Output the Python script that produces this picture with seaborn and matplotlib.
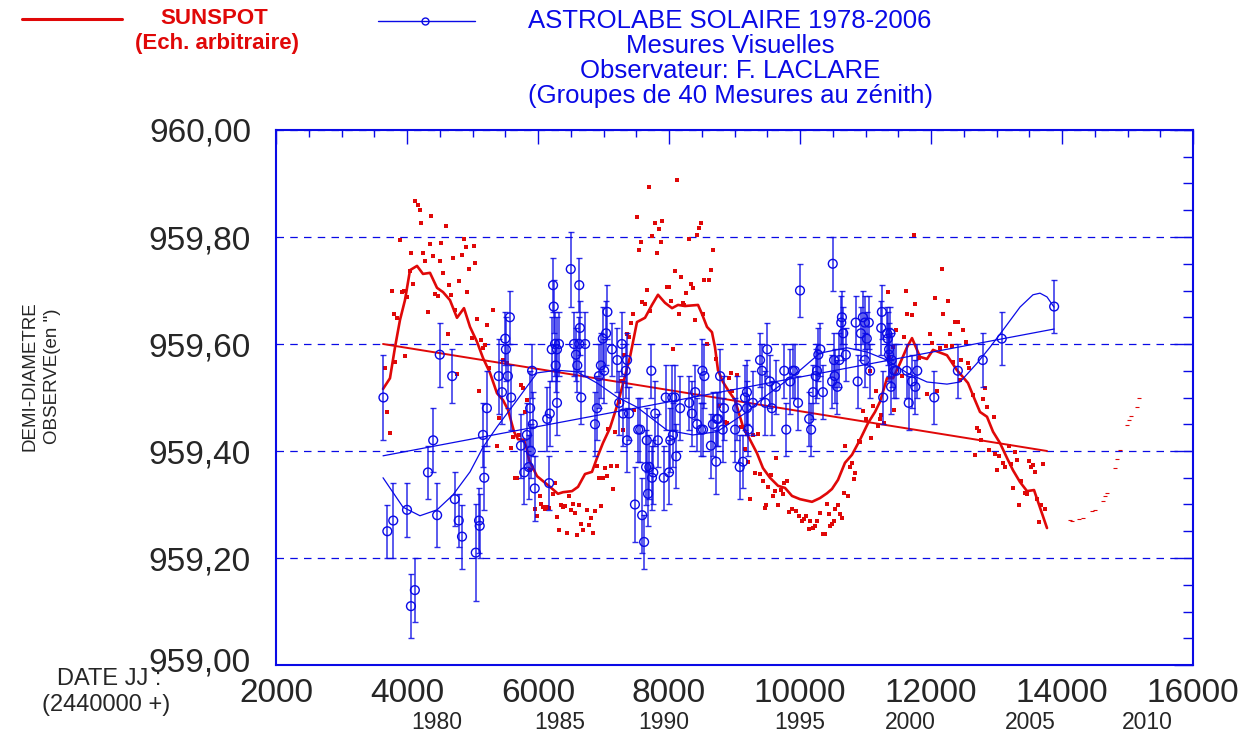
import matplotlib
matplotlib.use("Agg")
import matplotlib.pyplot as plt
import matplotlib.ticker as mticker
import matplotlib.transforms as mtransforms
from matplotlib.lines import Line2D
import seaborn as sns
import numpy as np
import pandas as pd

BLUE = "#0a0ae6"
RED = "#e00808"

# --- Astrolabe measurements (JD - 2440000, semi-diameter in arcsec, error) ---
astro_jd = [3640, 4500, 4690, 5220, 5400, 5450, 5500, 5510, 5540, 5570, 5590, 5910, 5880, 6180,
            6210, 6230, 6240, 6260, 6290, 6270, 6290, 6320, 6500, 6550, 6580, 6600, 6630, 6640,
            6630, 6660, 6720, 6900, 6930, 6960, 6990, 7010, 7040, 7060, 7130, 7210, 7280, 7340,
            7360, 7240, 7300, 7390,
            3700, 3790, 4000, 4060, 4120, 4320, 4400, 4460, 4730, 4790, 4840, 5050, 5100, 5110,
            5160, 5180, 5740, 5790, 5830, 5860, 5890, 5920, 5950, 6140, 6170, 6870, 7360, 7480,
            7530,
            7730, 7950, 8050, 8090, 8170, 8310, 8350, 8400, 8510, 8540, 8780, 8840, 9040, 9160,
            9190, 9190, 9280, 9390, 9420, 9470, 9500, 9540, 9570, 9630, 9760, 9850, 9890, 9920,
            9970, 10000, 10200, 10240, 10260, 10280, 10310, 10350, 10500, 10490, 10520, 10530,
            10570, 10600, 10630, 10640, 10660, 10700, 10880, 10850, 10930, 10960, 10990, 11020,
            11050, 10990, 11070, 11250, 11240, 11270, 11330, 11340, 11380, 11360, 11360, 11400,
            11390, 11440, 11470,
            7560, 7590, 7620, 7660, 7650, 7700, 7680, 7740, 7760, 7790, 7830, 7920, 8000, 8020,
            8060, 8110, 8430, 8490, 8640, 8670, 8730, 8720, 8820, 9010, 9080, 9130, 9210, 9790,
            10140, 10170, 8520, 8750,
            11660, 11710, 11760, 12050, 11630, 11790, 12410, 12790, 13080, 13880]
astro_val = [959.50, 959.58, 959.54, 959.48, 959.54, 959.51, 959.61, 959.59, 959.54, 959.65, 959.50,
             959.55, 959.48, 959.47, 959.59, 959.71, 959.67, 959.60, 959.59, 959.56, 959.49, 959.60,
             959.74, 959.60, 959.58, 959.56, 959.71, 959.63, 959.60, 959.50, 959.60, 959.48, 959.54,
             959.56, 959.61, 959.55, 959.62, 959.66, 959.59, 959.57, 959.60, 959.55, 959.57, 959.49,
             959.47, 959.47,
             959.25, 959.27, 959.29, 959.11, 959.14, 959.36, 959.42, 959.28, 959.31, 959.27, 959.24,
             959.21, 959.27, 959.26, 959.43, 959.35, 959.41, 959.36, 959.43, 959.37, 959.40, 959.45,
             959.33, 959.46, 959.34, 959.45, 959.42, 959.30, 959.44,
             959.55, 959.50, 959.50, 959.50, 959.48, 959.49, 959.47, 959.51, 959.55, 959.54, 959.54,
             959.48, 959.48, 959.50, 959.51, 959.48, 959.49, 959.57, 959.55, 959.49, 959.59, 959.53,
             959.48, 959.52, 959.55, 959.53, 959.55, 959.55, 959.49, 959.70, 959.51, 959.54, 959.55,
             959.58, 959.59, 959.51, 959.75, 959.53, 959.57, 959.54, 959.52, 959.57, 959.64, 959.65,
             959.62, 959.58, 959.53, 959.64, 959.62, 959.65, 959.64, 959.61, 959.64, 959.57, 959.55,
             959.66, 959.63, 959.50, 959.62, 959.61, 959.62, 959.59, 959.58, 959.57, 959.52, 959.55,
             959.55,
             959.44, 959.28, 959.23, 959.42, 959.37, 959.37, 959.32, 959.35, 959.36, 959.47, 959.42,
             959.35, 959.36, 959.42, 959.43, 959.39, 959.45, 959.44, 959.41, 959.45, 959.46, 959.38,
             959.44, 959.44, 959.37, 959.38, 959.44, 959.44, 959.46, 959.44, 959.44, 959.46,
             959.49, 959.53, 959.52, 959.50, 959.55, 959.55, 959.55, 959.57, 959.61, 959.67]
astro_err = [0.08, 0.06, 0.05, 0.07, 0.07, 0.06, 0.05, 0.06, 0.06, 0.05, 0.06, 0.05, 0.07, 0.06,
             0.06, 0.05, 0.05, 0.06, 0.06, 0.05, 0.06, 0.06, 0.07, 0.06, 0.05, 0.05, 0.05, 0.05,
             0.05, 0.05, 0.06, 0.06, 0.06, 0.06, 0.06, 0.06, 0.06, 0.05, 0.05, 0.06, 0.06, 0.05,
             0.05, 0.06, 0.06, 0.05,
             0.05, 0.07, 0.05, 0.06, 0.06, 0.05, 0.06, 0.06, 0.05, 0.05, 0.06, 0.09, 0.06, 0.06,
             0.06, 0.06, 0.06, 0.06, 0.06, 0.06, 0.05, 0.06, 0.06, 0.06, 0.05, 0.06, 0.06, 0.07,
             0.06,
             0.05, 0.06, 0.06, 0.06, 0.06, 0.05, 0.06, 0.05, 0.06, 0.06, 0.05, 0.06, 0.06, 0.06,
             0.06, 0.05, 0.06, 0.05, 0.05, 0.06, 0.05, 0.05, 0.05, 0.05, 0.05, 0.06, 0.05, 0.05,
             0.05, 0.05, 0.05, 0.05, 0.05, 0.05, 0.05, 0.05, 0.05, 0.05, 0.05, 0.05, 0.05, 0.05,
             0.05, 0.05, 0.05, 0.05, 0.05, 0.05, 0.05, 0.05, 0.05, 0.05, 0.05, 0.05, 0.05, 0.05,
             0.05, 0.05, 0.05, 0.05, 0.05, 0.05, 0.05, 0.05, 0.05, 0.05, 0.05,
             0.06, 0.07, 0.05, 0.06, 0.07, 0.06, 0.06, 0.06, 0.06, 0.06, 0.05, 0.06, 0.06, 0.06,
             0.06, 0.06, 0.05, 0.05, 0.06, 0.06, 0.05, 0.06, 0.06, 0.06, 0.06, 0.05, 0.05, 0.05,
             0.05, 0.05, 0.05, 0.05,
             0.05, 0.05, 0.05, 0.05, 0.05, 0.05, 0.05, 0.05, 0.05, 0.05]

# smoothed fit and linear trend of the astrolabe series
astro_fit_jd = [3634, 3939, 4198, 4458, 4702, 4962, 5160, 5374, 5679, 5985, 6290, 6595, 6901, 7206,
                7511, 7969, 8366, 8733, 9191, 9435, 9954, 10305, 10717, 11023, 11328, 11634, 11939,
                12244, 12443, 12702, 12901, 13099, 13359, 13557, 13664, 13771, 13878]
astro_fit_val = [959.350, 959.295, 959.279, 959.290, 959.318, 959.361, 959.407, 959.445, 959.495,
                 959.546, 959.551, 959.548, 959.527, 959.501, 959.482, 959.439, 959.430, 959.436,
                 959.473, 959.499, 959.546, 959.583, 959.593, 959.585, 959.570, 959.546, 959.529,
                 959.525, 959.529, 959.564, 959.594, 959.626, 959.669, 959.692, 959.695, 959.688,
                 959.669]
astro_trend_jd = [3634, 13880]
astro_trend_val = [959.391, 959.628]

# --- Sunspot number (arbitrary scale) ---
sunspot_jd = [4127, 4163, 4198, 4371, 4218, 4595, 3893, 4351, 4524, 4865, 4901, 5023, 4066, 4249,
              4402, 4280, 4504, 4707, 4835, 5043, 4951, 4046, 4554, 4799, 4097, 4646, 3771, 3924,
              3954, 4005, 4432, 4473, 4677, 4921, 4738, 5318, 4321, 3802, 3853, 5074, 5226, 4626,
              4987, 5130, 5165, 5196, 3974, 3821, 3669, 4768, 5247, 5470, 5522, 5104, 5745, 5776,
              3699, 5827, 7507, 7537, 7455, 7415, 7354, 7389, 7313, 7262, 7232, 7466, 3740, 5409,
              5806, 5379, 5593, 5623, 5705, 5878, 5653, 5684, 6031, 6264, 6234, 6478, 5959, 5980,
              6050, 6081, 6111, 6142, 6172, 6295, 6325, 6447, 6600, 6692, 6774, 6835, 6804, 6651,
              6356, 6386, 6417, 6499, 6539, 6570, 6631, 6753, 6875, 6967, 6906, 7027, 7119, 7201,
              6927, 6988, 7049, 7150, 7069, 7180, 7302, 7695, 8122, 7781, 7898, 7852, 7745, 7873,
              7578, 7811, 8301, 8423, 8453, 8484, 8667, 8092, 8636, 8179, 8539, 8606, 8331, 8371,
              7659, 8259, 7964, 7995, 7588, 7629, 8025, 8209, 8229, 7710, 8148, 8524, 8392, 8056,
              8575, 8717, 8942, 9034, 8911, 8962, 8759, 11343, 11466, 11425, 11354, 11069, 11160,
              11008, 10967, 11435, 8850, 8881, 9094, 9125, 9196, 9278, 9359, 9155, 9206, 9633,
              9308, 9389, 9430, 9511, 9552, 9613, 9582, 9705, 9735, 9756, 9797, 9237, 9481, 9461,
              9664, 9827, 9878, 9939, 9980, 10031, 10061, 10092, 10153, 10194, 10133, 10224, 10264,
              10305, 10346, 10377, 10407, 10438, 10458, 10488, 10519, 10539, 10580, 10611, 10641,
              10672, 10733, 10824, 10845, 10763, 10794, 10692, 10896, 10916, 11089, 11191, 11221,
              11242, 11282, 11120, 11740, 12168, 11618, 12066, 12260, 11760, 11638, 11710, 12188,
              12371, 12412, 12494, 11588, 11985, 12290, 12015, 12321, 12535, 12137, 12229, 11821,
              12341, 12463, 12565, 12585, 11557, 12443, 12829, 11944, 12096, 12646, 12799, 12860,
              12962, 12707, 12737, 12768, 12677, 12890, 12982, 13043, 13195, 13287, 13104, 13135,
              13013, 13226, 13318, 13501, 13562, 13532, 13593, 13715, 13379, 13256, 13430, 13470,
              13613, 13684, 13745, 13348, 13644]
sunspot_val = [959.867, 959.860, 959.850, 959.839, 959.827, 959.820, 959.794, 959.787, 959.789,
               959.797, 959.781, 959.784, 959.771, 959.771, 959.764, 959.756, 959.756, 959.761,
               959.766, 959.751, 959.740, 959.737, 959.733, 959.718, 959.713, 959.710, 959.700,
               959.698, 959.700, 959.688, 959.693, 959.690, 959.691, 959.698, 959.664, 959.663,
               959.660, 959.656, 959.649, 959.647, 959.636, 959.619, 959.611, 959.607, 959.593,
               959.598, 959.578, 959.566, 959.556, 959.543, 959.555, 959.570, 959.565, 959.513,
               959.524, 959.518, 959.473, 959.495, 959.837, 959.776, 959.656, 959.640, 959.619,
               959.613, 959.579, 959.531, 959.491, 959.477, 959.433, 959.461, 959.472, 959.410,
               959.406, 959.426, 959.429, 959.364, 959.350, 959.350, 959.315, 959.341, 959.320,
               959.316, 959.292, 959.279, 959.301, 959.295, 959.292, 959.296, 959.294, 959.276,
               959.252, 959.247, 959.243, 959.252, 959.262, 959.247, 959.274, 959.264, 959.300,
               959.295, 959.298, 959.290, 959.301, 959.285, 959.299, 959.290, 959.288, 959.297,
               959.372, 959.368, 959.372, 959.372, 959.350, 959.349, 959.353, 959.329, 959.441,
               959.435, 959.440, 959.893, 959.907, 959.827, 959.830, 959.815, 959.802, 959.791,
               959.790, 959.771, 959.797, 959.804, 959.817, 959.827, 959.776, 959.737, 959.739,
               959.725, 959.719, 959.720, 959.712, 959.705, 959.701, 959.696, 959.707, 959.707,
               959.678, 959.674, 959.680, 959.677, 959.673, 959.662, 959.656, 959.656, 959.644,
               959.590, 959.600, 959.572, 959.546, 959.542, 959.536, 959.513, 959.485, 959.697,
               959.627, 959.595, 959.576, 959.549, 959.512, 959.459, 959.475, 959.477, 959.454,
               959.452, 959.445, 959.444, 959.431, 959.430, 959.432, 959.403, 959.379, 959.386,
               959.358, 959.357, 959.344, 959.332, 959.355, 959.326, 959.315, 959.327, 959.319,
               959.340, 959.343, 959.310, 959.299, 959.293, 959.299, 959.286, 959.291, 959.287,
               959.279, 959.270, 959.273, 959.279, 959.270, 959.257, 959.254, 959.260, 959.269,
               959.285, 959.245, 959.245, 959.301, 959.282, 959.260, 959.264, 959.269, 959.292,
               959.300, 959.282, 959.274, 959.321, 959.316, 959.347, 959.359, 959.371, 959.377,
               959.410, 959.419, 959.416, 959.424, 959.447, 959.459, 959.468, 959.452, 959.485,
               959.803, 959.741, 959.700, 959.686, 959.680, 959.674, 959.656, 959.655, 959.657,
               959.642, 959.642, 959.627, 959.614, 959.619, 959.619, 959.601, 959.597, 959.604,
               959.593, 959.596, 959.574, 959.566, 959.571, 959.564, 959.555, 959.540, 959.532,
               959.517, 959.506, 959.512, 959.504, 959.497, 959.482, 959.463, 959.443, 959.438,
               959.421, 959.393, 959.402, 959.394, 959.391, 959.409, 959.399, 959.377, 959.371,
               959.364, 959.376, 959.383, 959.381, 959.373, 959.370, 959.360, 959.376, 959.344,
               959.331, 959.321, 959.320, 959.311, 959.299, 959.291, 959.299, 959.267]
# predicted tail after the last observation
sunspot_pred_jd = [14122, 14153, 14264, 14316, 14458, 14499, 14631, 14661, 14692, 14814, 14845,
                   14886, 14997, 15028, 15058, 15140, 15180]
sunspot_pred_val = [959.271, 959.270, 959.272, 959.274, 959.288, 959.289, 959.307, 959.315,
                    959.322, 959.369, 959.385, 959.402, 959.448, 959.458, 959.466, 959.483, 959.500]

# smoothed sunspot curve and its linear trend
sunspot_smooth_jd = [3634, 3740, 3817, 3893, 3969, 4046, 4153, 4244, 4351, 4458, 4550, 4656, 4763,
                     4870, 4962, 5069, 5160, 5267, 5374, 5466, 5542, 5634, 5695, 5786, 5832, 5863,
                     5924, 5985, 6183, 6305, 6382, 6519, 6611, 6718, 6824, 6901, 6992, 7099, 7221,
                     7405, 7511, 7634, 7740, 7832, 7939, 8046, 8137, 8244, 8443, 8504, 8580, 8656,
                     8702, 8748, 8824, 8901, 9008, 9084, 9130, 9237, 9343, 9435, 9542, 9664, 9771,
                     9878, 10000, 10183, 10305, 10412, 10488, 10580, 10687, 10794, 10916, 11038,
                     11145, 11221, 11328, 11420, 11527, 11634, 11710, 11832, 11939, 12031, 12244,
                     12397, 12489, 12565, 12672, 12748, 12855, 12947, 13053, 13160, 13252, 13359,
                     13466, 13573, 13634, 13771]
sunspot_smooth_val = [959.516, 959.536, 959.594, 959.645, 959.682, 959.738, 959.746, 959.731,
                      959.733, 959.705, 959.697, 959.682, 959.649, 959.667, 959.632, 959.604,
                      959.574, 959.546, 959.508, 959.495, 959.477, 959.436, 959.422, 959.421,
                      959.402, 959.383, 959.368, 959.353, 959.333, 959.320, 959.323, 959.325,
                      959.333, 959.357, 959.361, 959.387, 959.415, 959.443, 959.490, 959.576,
                      959.641, 959.649, 959.673, 959.692, 959.677, 959.667, 959.673, 959.671,
                      959.673, 959.656, 959.632, 959.622, 959.594, 959.551, 959.529, 959.514,
                      959.495, 959.464, 959.445, 959.421, 959.396, 959.368, 959.350, 959.335,
                      959.331, 959.316, 959.310, 959.305, 959.312, 959.321, 959.329, 959.346,
                      959.378, 959.393, 959.421, 959.452, 959.473, 959.492, 959.536, 959.536,
                      959.564, 959.594, 959.611, 959.576, 959.572, 959.589, 959.579, 959.551,
                      959.538, 959.527, 959.495, 959.473, 959.464, 959.436, 959.415, 959.387,
                      959.364, 959.342, 959.325, 959.327, 959.305, 959.256]
sunspot_trend_jd = [3634, 13771]
sunspot_trend_val = [959.600, 959.400]

# calendar years written under the JD axis (label centre in JD - 2440000)
year_labels = ["1980", "1985", "1990", "1995", "2000", "2005", "2010"]
year_jd = [4458, 6336, 7924, 10000, 11679, 13511, 15298]

legend_lines = ["ASTROLABE SOLAIRE 1978-2006", "Mesures Visuelles",
                "Observateur: F. LACLARE", "(Groupes de 40 Mesures au z\u00e9nith)"]

sns.set_style("white")
plt.rcParams["font.family"] = ["Liberation Sans", "DejaVu Sans"]

astro = pd.DataFrame({"jd": astro_jd, "val": astro_val, "err": astro_err})
spots = pd.DataFrame({"jd": sunspot_jd, "val": sunspot_val})
pred = pd.DataFrame({"jd": sunspot_pred_jd, "val": sunspot_pred_val})

fig = plt.figure(figsize=(12.43, 7.38), dpi=100)
ax = fig.add_axes([276 / 1243, 1 - 665 / 738, 917 / 1243, 535 / 738])

# sunspot dots, smooth curve and trend
sns.scatterplot(data=spots, x="jd", y="val", marker="s", s=6, color=RED, linewidth=0, ax=ax,
                zorder=2)
sns.scatterplot(data=pred, x="jd", y="val", marker="_", s=8, color=RED, linewidth=0.8, ax=ax,
                zorder=2)
sns.lineplot(x=sunspot_smooth_jd, y=sunspot_smooth_val, sort=False, estimator=None, color=RED,
             lw=1.9, ax=ax, zorder=3)
sns.lineplot(x=sunspot_trend_jd, y=sunspot_trend_val, sort=False, estimator=None, color=RED,
             lw=1.4, ax=ax, zorder=3)

# astrolabe points with error bars
ax.errorbar(astro["jd"], astro["val"], yerr=astro["err"], fmt="none", ecolor=BLUE,
            elinewidth=1.1, capsize=2, capthick=1, alpha=0.85, zorder=4)
sns.scatterplot(data=astro, x="jd", y="val", marker="o", s=40, facecolor="none",
                edgecolor=BLUE, linewidth=1.0, ax=ax, zorder=5)
sns.lineplot(x=astro_fit_jd, y=astro_fit_val, sort=False, estimator=None, color=BLUE, lw=0.9,
             ax=ax, zorder=4)
sns.lineplot(x=astro_trend_jd, y=astro_trend_val, sort=False, estimator=None, color=BLUE,
             lw=0.9, ax=ax, zorder=4)

ax.set_xlim(2000, 16000)
ax.set_ylim(959.0, 960.0)
ax.xaxis.set_major_locator(mticker.MultipleLocator(2000))
ax.xaxis.set_minor_locator(mticker.MultipleLocator(500))
ax.yaxis.set_major_locator(mticker.MultipleLocator(0.2))
ax.yaxis.set_minor_locator(mticker.MultipleLocator(0.05))
ax.yaxis.set_major_formatter(mticker.FuncFormatter(lambda v, p: f"{v:.2f}".replace(".", ",")))
ax.xaxis.set_major_formatter(mticker.FuncFormatter(lambda v, p: f"{v:.0f}"))

ax.grid(axis="y", which="major", color=BLUE, lw=0.9, ls=(0, (6, 5)))
ax.set_xlabel("")
ax.set_ylabel("")
for s in ax.spines.values():
    s.set_color(BLUE)
    s.set_linewidth(1.5)

ax.tick_params(which="both", direction="in", color=BLUE, top=True, right=True, width=1)
ax.tick_params(axis="x", which="major", length=10, labelsize=24, pad=9)
ax.tick_params(axis="x", which="minor", length=5)
ax.tick_params(axis="y", which="major", length=14, labelsize=24, pad=18)
ax.tick_params(axis="y", which="minor", length=7)

# the lowest y label sits a little above its tick, as in the original
fig.canvas.draw()
lift = mtransforms.ScaledTranslation(0, 4 / 72, fig.dpi_scale_trans)
for lab in ax.get_yticklabels():
    if lab.get_text() == "959,00":
        lab.set_transform(lab.get_transform() + lift)

for lab, jd in zip(year_labels, year_jd):
    ax.text(jd, -0.107, lab, transform=ax.get_xaxis_transform(), ha="center", va="center",
            fontsize=16.5)

fig.text(109 / 1243, 1 - 679 / 738, "DATE JJ :", ha="center", va="center", fontsize=17)
fig.text(106 / 1243, 1 - 705 / 738, "(2440000 +)", ha="center", va="center", fontsize=17)
fig.text(30 / 1243, 1 - 376 / 738, "DEMI-DIAMETRE", rotation=90, ha="center", va="center",
         fontsize=13.5)
fig.text(53 / 1243, 1 - 376 / 738, "OBSERVE(en \")", rotation=90, ha="center", va="center",
         fontsize=13.5)

# hand-drawn legend at the top
fig.add_artist(Line2D([22 / 1243, 122 / 1243], [1 - 19 / 738, 1 - 19 / 738], color=RED, lw=2.2))
fig.add_artist(Line2D([378 / 1243, 475 / 1243], [1 - 21 / 738, 1 - 21 / 738], color=BLUE,
                      lw=1.0))
fig.add_artist(Line2D([425 / 1243], [1 - 21 / 738], color=BLUE, marker="o", ms=5,
                      mfc="none", mew=1.0))
fig.text(214 / 1243, 1 - 19 / 738, "SUNSPOT", color=RED, fontweight="bold", fontsize=16,
         ha="center", va="center")
fig.text(217 / 1243, 1 - 44 / 738, "(Ech. arbitraire)", color=RED, fontweight="bold",
         fontsize=16, ha="center", va="center")
for i, line in enumerate(legend_lines):
    fig.text(730 / 1243, 1 - (21 + 25 * i) / 738, line, color=BLUE, fontsize=18.5,
             ha="center", va="center")

fig.savefig("out.png", dpi=100)
